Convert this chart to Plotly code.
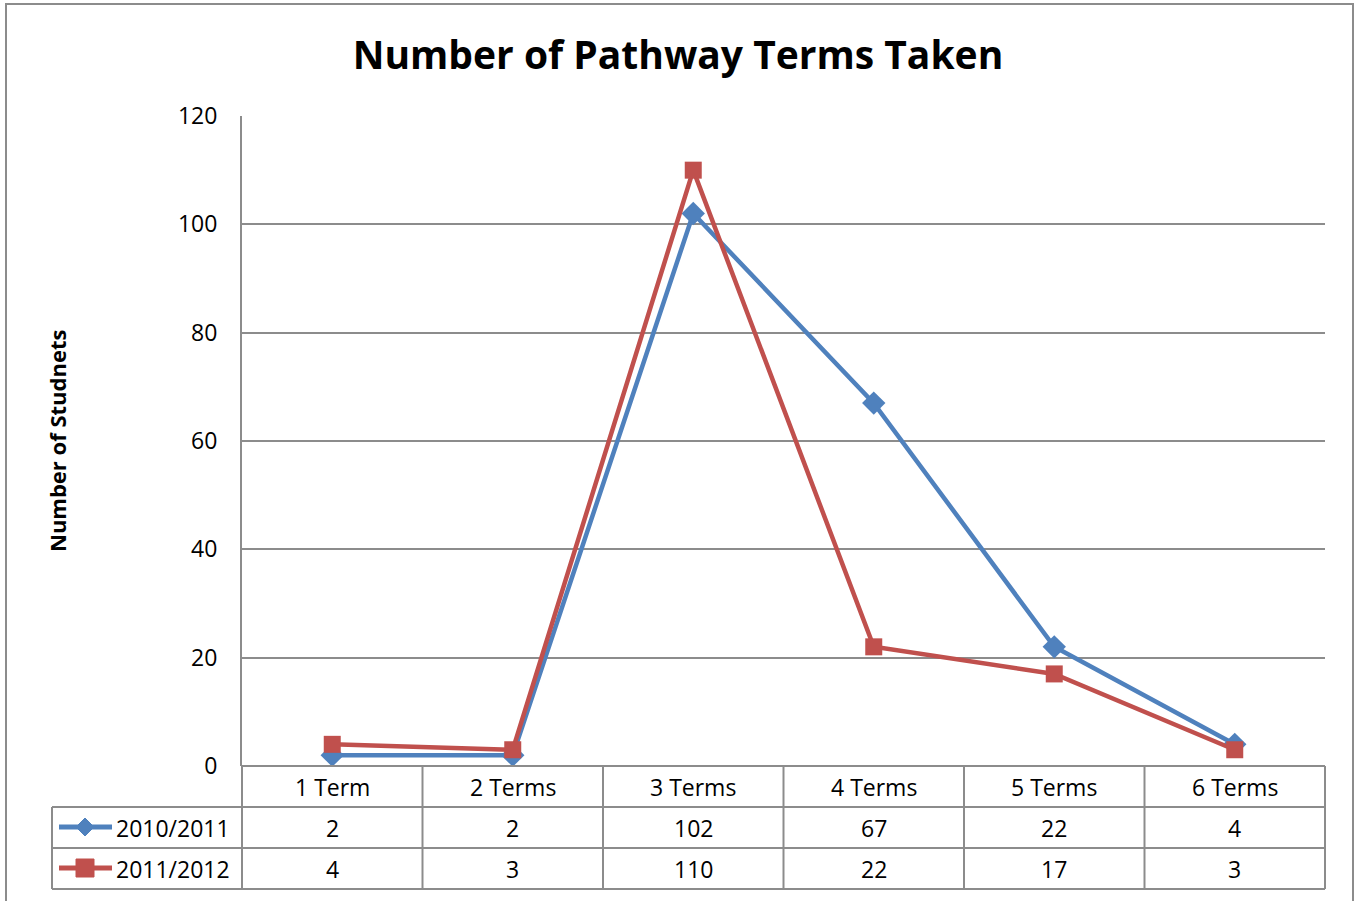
import plotly.graph_objects as go

categories = ["1 Term", "2 Terms", "3 Terms", "4 Terms", "5 Terms", "6 Terms"]
series_names = ["2010/2011", "2011/2012"]
values_2010 = [2, 2, 102, 67, 22, 4]
values_2011 = [4, 3, 110, 22, 17, 3]

BLUE = "#4F81BD"
RED = "#C0504D"
GRID = "#8C8C8C"
FONT = "Open Sans"

W, H = 1356, 901
L, R, T, B = 242, 1325, 116, 766  # plot area pixels


def px(x):
    return (x - L) / (R - L)


def py(y):
    return (B - y) / (B - T)


fig = go.Figure()
fig.add_trace(go.Scatter(
    x=categories, y=values_2010, name=series_names[0], mode="lines+markers",
    line=dict(color=BLUE, width=4.5),
    marker=dict(symbol="diamond", size=18, color=BLUE),
    cliponaxis=False,
))
fig.add_trace(go.Scatter(
    x=categories, y=values_2011, name=series_names[1], mode="lines+markers",
    line=dict(color=RED, width=4.5),
    marker=dict(symbol="square", size=17, color=RED),
    cliponaxis=False,
))

shapes = []
line_style = dict(color=GRID, width=2)
# outer chart border
shapes.append(dict(type="rect", xref="paper", yref="paper",
                   x0=px(6), x1=px(1353), y0=py(905), y1=py(4),
                   line=line_style, fillcolor="rgba(0,0,0,0)", layer="below"))
# table horizontal lines
row_edges = [766, 807, 848, 889]
for i, y in enumerate(row_edges):
    x0 = L if i == 0 else 52
    shapes.append(dict(type="line", xref="paper", yref="paper",
                       x0=px(x0), x1=px(R), y0=py(y), y1=py(y), line=line_style))
# table vertical lines
ncat = len(categories)
for k in range(ncat + 1):
    xk = L + (R - L) * k / ncat
    shapes.append(dict(type="line", xref="paper", yref="paper",
                       x0=px(xk), x1=px(xk), y0=py(766), y1=py(889), line=line_style))
shapes.append(dict(type="line", xref="paper", yref="paper",
                   x0=px(52), x1=px(52), y0=py(807), y1=py(889), line=line_style))


def P(x, y):
    return f"{px(x)},{py(y)}"


# legend keys inside table
for color, yc, sym in [(BLUE, 827, "diamond"), (RED, 868, "square")]:
    shapes.append(dict(type="line", xref="paper", yref="paper",
                       x0=px(59), x1=px(112), y0=py(yc), y1=py(yc),
                       line=dict(color=color, width=5)))
    if sym == "diamond":
        d = 9
        path = f"M {P(85, yc - d)} L {P(85 + d, yc)} L {P(85, yc + d)} L {P(85 - d, yc)} Z"
        shapes.append(dict(type="path", xref="paper", yref="paper", path=path,
                           fillcolor=color, line=dict(color=color, width=1)))
    else:
        d = 9
        shapes.append(dict(type="rect", xref="paper", yref="paper",
                           x0=px(85 - d), x1=px(85 + d), y0=py(yc + d), y1=py(yc - d),
                           fillcolor=color, line=dict(color=color, width=1)))

annotations = []
tfont = dict(family=FONT, size=23, color="black")
row_centers = [787, 828, 869]
for j, cat in enumerate(categories):
    annotations.append(dict(x=cat, xref="x", y=py(row_centers[0]), yref="paper",
                            text=cat, showarrow=False, font=tfont,
                            xanchor="center", yanchor="middle"))
    annotations.append(dict(x=cat, xref="x", y=py(row_centers[1]), yref="paper",
                            text=str(values_2010[j]), showarrow=False, font=tfont,
                            xanchor="center", yanchor="middle"))
    annotations.append(dict(x=cat, xref="x", y=py(row_centers[2]), yref="paper",
                            text=str(values_2011[j]), showarrow=False, font=tfont,
                            xanchor="center", yanchor="middle"))
for name, yc in zip(series_names, row_centers[1:]):
    annotations.append(dict(x=px(114), xref="paper", y=py(yc), yref="paper",
                            text=name, showarrow=False, font=tfont,
                            xanchor="left", yanchor="middle"))
# y-axis title
annotations.append(dict(x=px(57), xref="paper", y=py(441), yref="paper",
                        text="<b>Number of Studnets</b>", showarrow=False, textangle=-90,
                        font=dict(family=FONT, size=22, color="black"),
                        xanchor="center", yanchor="middle"))

fig.update_layout(
    width=W, height=H,
    margin=dict(l=L, r=W - R, t=T, b=H - B, pad=0),
    paper_bgcolor="white", plot_bgcolor="white",
    showlegend=False,
    title=dict(text="<b>Number of Pathway Terms Taken</b>", x=0.5, xref="container",
               xanchor="center", y=1 - 55 / H, yref="container", yanchor="middle",
               font=dict(family=FONT, size=39, color="black")),
    xaxis=dict(type="category", range=[-0.5, ncat - 0.5], showticklabels=False,
               showgrid=False, zeroline=False, showline=False, ticks=""),
    yaxis=dict(range=[0, 120], dtick=20, showgrid=True, gridcolor=GRID, gridwidth=2,
               zeroline=False, showline=True, linecolor=GRID, linewidth=2, ticks="",
               ticklabelstandoff=18, tickfont=dict(family=FONT, size=23, color="black")),
    shapes=shapes,
    annotations=annotations,
)

fig.write_html("out.html", config={"displayModeBar": False},
               post_script="document.body.style.margin='0';document.body.style.overflow='hidden';")
